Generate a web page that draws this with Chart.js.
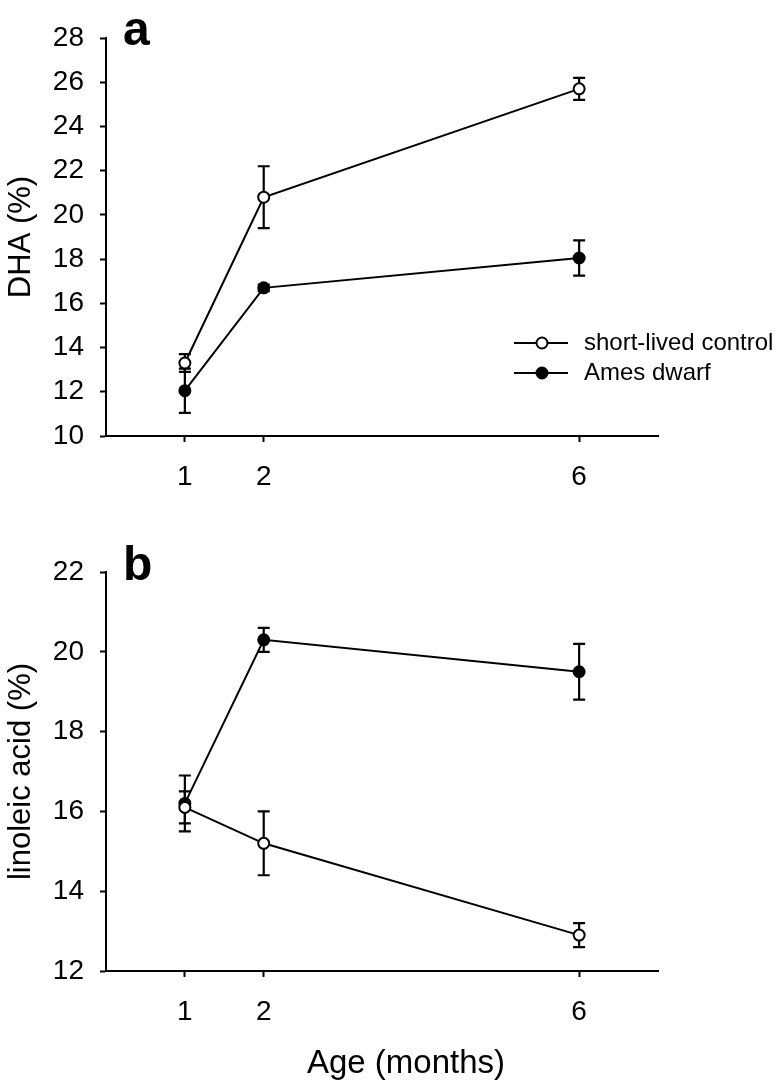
<!DOCTYPE html>
<html>
<head>
<meta charset="utf-8">
<script src="https://cdn.jsdelivr.net/npm/chart.js@4"></script>
<style>
  body { margin: 0; background: #fff; }
  #wrap { position: relative; width: 783px; height: 1091px; }
  #chartA { position: absolute; left: 0; top: 0; }
  #chartB { position: absolute; left: 0; top: 520px; }
</style>
</head>
<body>
<div id="wrap">
  <canvas id="chartA" width="783" height="520"></canvas>
  <canvas id="chartB" width="783" height="571"></canvas>
</div>
<script>
// ages sampled (months)
var ages = [1, 2, 6];
var xTicks = [1, 2, 6];

// panel a - DHA (%)
var dhaControl = [13.3, 20.8, 25.7];
var dhaControlErr = [0.4, 1.4, 0.5];
var dhaDwarf = [12.05, 16.7, 18.05];
var dhaDwarfErr = [1.0, 0.15, 0.8];

// panel b - linoleic acid (%)
var linControl = [16.1, 15.2, 12.9];
var linControlErr = [0.4, 0.8, 0.3];
var linDwarf = [16.2, 20.3, 19.5];
var linDwarfErr = [0.7, 0.3, 0.7];

var seriesNames = ['short-lived control', 'Ames dwarf'];
var FONT = "'Liberation Sans', Arial, Helvetica, sans-serif";

function toPoints(vals) {
    return ages.map(function (a, i) { return {x: a, y: vals[i]}; });
}

// error bars, drawn under the markers
var errorBars = {
    id: 'errorBars',
    beforeDatasetsDraw: function (chart) {
        var ctx = chart.ctx;
        var xs = chart.scales.x, ys = chart.scales.y;
        ctx.save();
        ctx.strokeStyle = '#000';
        ctx.lineWidth = 2.2;
        chart.data.datasets.forEach(function (ds) {
            ds.data.forEach(function (p, i) {
                var e = ds.errors[i];
                var px = xs.getPixelForValue(p.x);
                var top = ys.getPixelForValue(p.y + e);
                var bot = ys.getPixelForValue(p.y - e);
                ctx.beginPath();
                ctx.moveTo(px, top); ctx.lineTo(px, bot);
                ctx.moveTo(px - 6, top); ctx.lineTo(px + 6, top);
                ctx.moveTo(px - 6, bot); ctx.lineTo(px + 6, bot);
                ctx.stroke();
            });
        });
        ctx.restore();
    }
};

// panel letter, legend and bottom title
var extras = {
    id: 'extras',
    afterDraw: function (chart, args, opts) {
        var ctx = chart.ctx;
        ctx.save();
        ctx.fillStyle = '#000';
        ctx.font = 'bold 48px ' + FONT;
        ctx.textBaseline = 'alphabetic';
        ctx.fillText(opts.letter, 123, opts.letterY);
        if (opts.legend) {
            ctx.font = '24px ' + FONT;
            ctx.textBaseline = 'middle';
            ctx.lineWidth = 2;
            ctx.strokeStyle = '#000';
            [343, 373].forEach(function (y, i) {
                ctx.beginPath();
                ctx.moveTo(514, y); ctx.lineTo(568, y);
                ctx.stroke();
                ctx.beginPath();
                ctx.arc(542, y, 5.5, 0, Math.PI * 2);
                ctx.fillStyle = i === 0 ? '#fff' : '#000';
                ctx.fill();
                ctx.stroke();
                ctx.fillStyle = '#000';
                ctx.fillText(seriesNames[i], 584, y);
            });
        }
        if (opts.xTitle) {
            ctx.font = '33px ' + FONT;
            ctx.textAlign = 'center';
            ctx.textBaseline = 'alphabetic';
            ctx.fillText(opts.xTitle, 406, 553);
        }
        ctx.restore();
    }
};

function makeChart(id, cfg) {
    var ctx = document.getElementById(id).getContext('2d');
    return new Chart(ctx, {
        type: 'line',
        data: {
            datasets: [
                {
                    label: seriesNames[0],
                    data: toPoints(cfg.control),
                    errors: cfg.controlErr,
                    borderColor: '#000',
                    borderWidth: 2,
                    pointRadius: 5.5,
                    pointBorderWidth: 2,
                    pointBackgroundColor: '#fff',
                    pointBorderColor: '#000',
                    tension: 0
                },
                {
                    label: seriesNames[1],
                    data: toPoints(cfg.dwarf),
                    errors: cfg.dwarfErr,
                    borderColor: '#000',
                    borderWidth: 2,
                    pointRadius: 5.5,
                    pointBorderWidth: 2,
                    pointBackgroundColor: '#000',
                    pointBorderColor: '#000',
                    tension: 0
                }
            ]
        },
        options: {
            responsive: false,
            animation: false,
            clip: false,
            layout: {padding: {left: 0, top: cfg.top, right: 125, bottom: 0}},
            plugins: {
                legend: {display: false},
                tooltip: {enabled: false},
                extras: {letter: cfg.letter, letterY: cfg.letterY, legend: cfg.legend, xTitle: cfg.xTitle}
            },
            scales: {
                x: {
                    type: 'linear',
                    min: 0,
                    max: 7,
                    afterBuildTicks: function (scale) {
                        scale.ticks = xTicks.map(function (v) { return {value: v}; });
                    },
                    afterFit: function (scale) { scale.height = cfg.xHeight; },
                    grid: {drawOnChartArea: false, tickLength: 6, tickColor: '#000', tickWidth: 2},
                    border: {color: '#000', width: 2},
                    ticks: {color: '#000', font: {family: FONT, size: 28}, padding: 18, maxRotation: 0}
                },
                y: {
                    min: cfg.yMin,
                    max: cfg.yMax,
                    afterFit: function (scale) { scale.width = 106; },
                    grid: {drawOnChartArea: false, tickLength: 6, tickColor: '#000', tickWidth: 2},
                    border: {color: '#000', width: 2},
                    ticks: {stepSize: 2, color: '#000', font: {family: FONT, size: 28}, padding: 16},
                    title: {
                        display: true,
                        text: cfg.yTitle,
                        color: '#000',
                        font: {family: FONT, size: 31},
                        padding: {top: 3, bottom: 3}
                    }
                }
            }
        },
        plugins: [errorBars, extras]
    });
}

makeChart('chartA', {
    control: dhaControl, controlErr: dhaControlErr,
    dwarf: dhaDwarf, dwarfErr: dhaDwarfErr,
    yMin: 10, yMax: 28, yTitle: 'DHA (%)',
    top: 38, xHeight: 84, letter: 'a', letterY: 45, legend: true
});

makeChart('chartB', {
    control: linControl, controlErr: linControlErr,
    dwarf: linDwarf, dwarfErr: linDwarfErr,
    yMin: 12, yMax: 22, yTitle: 'linoleic acid (%)', xTitle: 'Age (months)',
    top: 52, xHeight: 120, letter: 'b', letterY: 60, legend: false
});
</script>
</body>
</html>
